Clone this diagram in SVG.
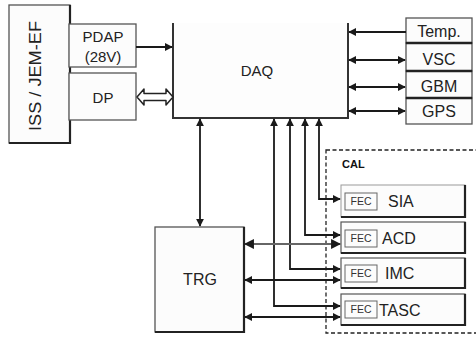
<svg xmlns="http://www.w3.org/2000/svg" width="476" height="337" viewBox="0 0 476 337">
<defs>
<style>
.box{fill:#fcfcfc;stroke:#555;stroke-width:1.3}
.t{font-family:"Liberation Sans",Arial,sans-serif;fill:#222;text-anchor:middle}
.l{font-family:"Liberation Sans",Arial,sans-serif;fill:#222;text-anchor:start;font-size:16px}
.f{font-family:"Liberation Sans",Arial,sans-serif;fill:#333;text-anchor:middle;font-size:10.5px}
.c{fill:none;stroke:#1a1a1a;stroke-width:1.8}
.g{fill:none;stroke:#666;stroke-width:2.2}
.sh{stroke:#222;stroke-width:2.2;fill:none}
.cb{fill:#fcfcfc;stroke:#555;stroke-width:1.2}
.fb{fill:none;stroke:#666;stroke-width:1}
</style>
<marker id="a" viewBox="0 0 10 10" refX="9" refY="5" markerWidth="4.5" markerHeight="4.5" orient="auto-start-reverse" markerUnits="strokeWidth">
<path d="M0,0 L10,5 L0,10 Z" fill="#1a1a1a"/>
</marker>
</defs>
<g id="iss">
<rect class="box" x="9" y="5" width="61" height="138"/>
<path class="sh" d="M70,5 V143 H9"/>
<text class="t" font-size="17" transform="translate(41,76) rotate(-90)" textLength="110" lengthAdjust="spacingAndGlyphs">ISS / JEM-EF</text>
</g>
<g id="pdap">
<rect class="box" x="69" y="24" width="67" height="43"/>
<text class="t" font-size="15" x="103" y="42">PDAP</text>
<text class="t" font-size="15" x="103" y="62">(28V)</text>
</g>
<g id="dp">
<rect class="box" x="69" y="73" width="67" height="47"/>
<text class="t" font-size="15" x="103" y="103">DP</text>
</g>
<g id="daq">
<rect x="173" y="23" width="175" height="95" fill="#fdfdfd"/>
<path d="M173,23 V118 H348 V23" fill="none" stroke="#333" stroke-width="2"/>
<text class="t" font-size="15" x="257" y="76">DAQ</text>
</g>
<g id="temp">
<rect class="box" x="406" y="18" width="66" height="25"/>
<text class="t" font-size="16" x="439" y="37">Temp.</text>
</g>
<g id="vsc">
<rect class="box" x="406" y="43" width="66" height="28"/>
<text class="t" font-size="16" x="439" y="65">VSC</text>
</g>
<g id="gbm">
<rect class="box" x="406" y="71" width="66" height="27"/>
<text class="t" font-size="16" x="439" y="92">GBM</text>
</g>
<g id="gps">
<rect class="box" x="406" y="98" width="66" height="26"/>
<text class="t" font-size="16" x="439" y="117">GPS</text>
</g>
<path d="M406,43 H472 M406,71 H472 M406,98 H472" stroke="#222" stroke-width="2.5"/>
<g id="trg">
<rect class="box" x="155" y="227" width="89" height="105"/>
<path class="sh" d="M244,227 V332 H155"/>
<text class="t" font-size="16" x="200" y="285">TRG</text>
</g>
<g id="cal">
<rect x="326" y="150" width="160" height="183" fill="none" stroke="#222" stroke-width="1.3" stroke-dasharray="4,2.5"/>
<text font-family="Liberation Sans,Arial,sans-serif" font-weight="bold" font-size="11" x="342" y="168" fill="#111">CAL</text>
</g>
<g id="sia">
<rect x="341" y="185" width="124" height="32" fill="#fcfcfc" stroke="#999" stroke-width="1"/>
<path class="sh" d="M465,185 V217 H341" stroke-width="1.6"/>
<rect class="fb" x="345" y="193" width="32" height="17"/>
<text class="f" x="361" y="205">FEC</text>
<text class="l" x="388" y="207">SIA</text>
</g>
<g id="acd">
<rect class="cb" x="341" y="222" width="124" height="31"/>
<path class="sh" d="M465,222 V253 H341" stroke-width="1.6"/>
<rect class="fb" x="345" y="230" width="32" height="17"/>
<text class="f" x="361" y="242">FEC</text>
<text class="l" x="382" y="244">ACD</text>
</g>
<g id="imc">
<rect class="cb" x="341" y="258" width="124" height="30"/>
<path class="sh" d="M465,258 V288 H341" stroke-width="1.6"/>
<rect class="fb" x="345" y="265" width="32" height="17" stroke="#777"/>
<text class="f" x="361" y="277">FEC</text>
<text class="l" x="385" y="279">IMC</text>
</g>
<g id="tasc">
<rect class="cb" x="341" y="294" width="124" height="31"/>
<path class="sh" d="M465,294 V325 H341" stroke-width="1.6"/>
<rect class="fb" x="345" y="301" width="32" height="17" stroke="#777"/>
<text class="f" x="361" y="313">FEC</text>
<text class="l" x="379" y="316" font-size="15.5">TASC</text>
</g>
<g id="connectors">
<path class="c" d="M136,47 H172" marker-end="url(#a)"/>
<path d="M137,97 L144,89 V93.5 H166 V89 L173,97 L166,105 V100.5 H144 V105 Z" fill="#fff" stroke="#222" stroke-width="1.5" stroke-linejoin="round"/>
<path class="c" d="M406,32 H349" marker-end="url(#a)"/>
<path class="c" d="M405,60 H349" marker-start="url(#a)" marker-end="url(#a)"/>
<path class="c" d="M405,87 H349" marker-start="url(#a)" marker-end="url(#a)" stroke-width="1.4"/>
<path class="c" d="M405,111 H349" marker-start="url(#a)" marker-end="url(#a)"/>
<path class="c" d="M200,119 V226" marker-start="url(#a)" marker-end="url(#a)"/>
<path class="c" d="M319,119 V199 H340" marker-start="url(#a)" marker-end="url(#a)"/>
<path class="c" d="M305,119 V235 H340" marker-start="url(#a)" marker-end="url(#a)"/>
<path class="c" d="M290,119 V269 H340" marker-start="url(#a)" marker-end="url(#a)"/>
<path class="c" d="M274,119 V306 H340" marker-start="url(#a)" marker-end="url(#a)"/>
<path class="g" d="M245,244 H340" marker-start="url(#a)" marker-end="url(#a)"/>
<path class="c" d="M245,280 H340" marker-start="url(#a)" marker-end="url(#a)"/>
<path class="c" d="M245,317 H340" marker-start="url(#a)" marker-end="url(#a)"/>
</g>
</svg>
